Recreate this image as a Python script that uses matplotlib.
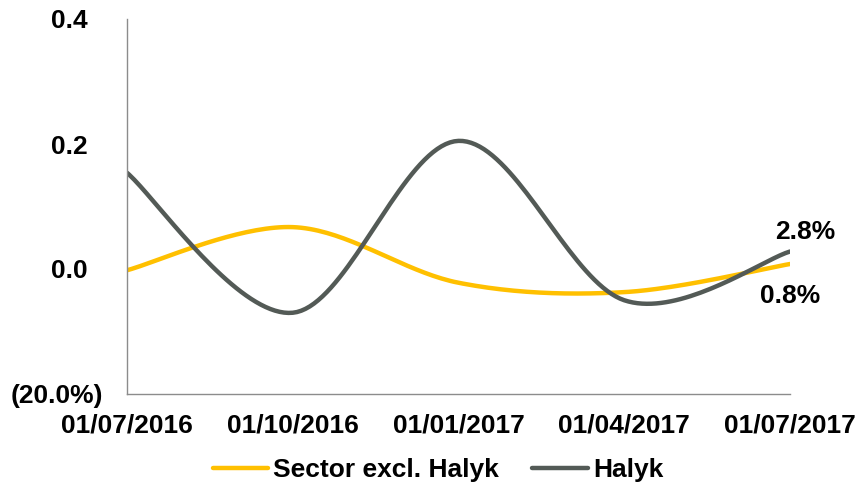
import numpy as np
import matplotlib
matplotlib.use("Agg")
import matplotlib.pyplot as plt
from matplotlib.transforms import ScaledTranslation

dates = ["01/07/2016", "01/10/2016", "01/01/2017", "01/04/2017", "01/07/2017"]
sector = [-0.002, 0.067, -0.022, -0.037, 0.008]
halyk = [0.154, -0.070, 0.205, -0.050, 0.028]
series_names = ["Sector excl. Halyk", "Halyk"]
y_ticks = [-0.2, 0.0, 0.2, 0.4]
y_tick_labels = ["(20.0%)", "0.0", "0.2", "0.4"]
end_labels = ["0.8%", "2.8%"]

colors = ["#FFC000", "#535A56"]

plt.rcParams['font.family'] = ['Liberation Sans', 'DejaVu Sans']
FS = 19


def smooth(xs, ys, n=40):
    # Excel-style smoothed line: cubic Bezier through points
    xs = np.asarray(xs, float)
    ys = np.asarray(ys, float)
    P = np.column_stack([xs, ys])
    out = []
    m = len(P)
    for i in range(m - 1):
        p0 = P[i - 1] if i > 0 else P[i]
        p1 = P[i]
        p2 = P[i + 1]
        p3 = P[i + 2] if i + 2 < m else P[i + 1]
        c1 = p1 + (p2 - p0) / 6.0
        c2 = p2 - (p3 - p1) / 6.0
        t = np.linspace(0, 1, n)[:, None]
        seg = ((1 - t) ** 3) * p1 + 3 * ((1 - t) ** 2) * t * c1 + 3 * (1 - t) * t ** 2 * c2 + t ** 3 * p2
        if i > 0:
            seg = seg[1:]
        out.append(seg)
    out = np.vstack(out)
    return out[:, 0], out[:, 1]


fig = plt.figure(figsize=(8.58, 4.93), dpi=100)
ax = fig.add_axes([127 / 858, (493 - 394) / 493, (790 - 127) / 858, (394 - 19) / 493])

x = np.arange(len(dates))
lines = []
for vals, c, name in zip([sector, halyk], colors, series_names):
    sx, sy = smooth(x, vals)
    ln, = ax.plot(sx, sy, color=c, lw=3.2, label=name, solid_capstyle='round')
    lines.append(ln)

ax.set_xlim(0, len(dates) - 1)
ax.set_ylim(-0.2, 0.4)
ax.set_xticks(x)
ax.set_xticklabels(dates, fontsize=FS, fontweight='bold')
ax.set_yticks(y_ticks)
ax.set_yticklabels(y_tick_labels, fontsize=FS, fontweight='bold')
ax.tick_params(axis='both', length=0)
ax.tick_params(axis='x', pad=14)
ax.tick_params(axis='y', pad=28)

for lab in ax.get_yticklabels():
    if lab.get_text().startswith("("):
        lab.set_transform(lab.get_transform() + ScaledTranslation(15 / 100, 0, fig.dpi_scale_trans))

for s in ['top', 'right']:
    ax.spines[s].set_visible(False)
for s in ['left', 'bottom']:
    ax.spines[s].set_color('#8C8C8C')
    ax.spines[s].set_linewidth(1.0)

# end labels
ax.annotate(end_labels[1], xy=(x[-1], halyk[-1]), xytext=(11, 14), textcoords='offset points',
            ha='center', va='center', fontsize=FS, fontweight='bold')
ax.annotate(end_labels[0], xy=(x[-1], sector[-1]), xytext=(0, -23), textcoords='offset points',
            ha='center', va='center', fontsize=FS, fontweight='bold')

leg = fig.legend(handles=lines, loc='center', bbox_to_anchor=(438 / 858, 1 - 470 / 493),
                 ncol=2, frameon=False, prop={'weight': 'bold', 'size': FS},
                 handlelength=2.1, handletextpad=0.2, columnspacing=1.25)

fig.savefig("out.png", dpi=100)
